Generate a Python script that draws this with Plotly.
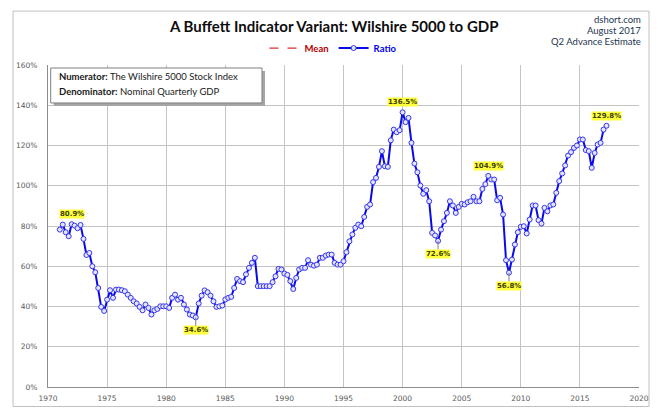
import plotly.graph_objects as go

# ---------------- data ----------------
start_year = 1971.0          # first quarterly observation
ratio = [
    # 1971 - 1982Q3
    78.2, 80.7, 76.9, 74.9, 80.9, 80.2, 78.9, 80.5, 73.6, 65.6, 66.6, 60.0,
    57.0, 49.2, 39.8, 37.8, 43.4, 48.1, 44.3, 48.4, 48.4, 48.1, 47.6, 45.9,
    44.3, 42.6, 41.5, 39.8, 38.1, 41.0, 39.3, 36.0, 38.1, 38.8, 40.1, 40.1,
    40.1, 39.3, 44.3, 45.9, 43.4, 44.3, 41.0, 38.5, 36.0, 35.5, 34.6,
    # 1982Q4 - 1987Q3
    41.5, 45.4, 48.0, 47.1, 45.4, 42.6, 39.8, 40.1, 40.5, 43.5, 44.3, 44.8,
    49.2, 53.7, 52.6, 52.1, 56.0, 59.2, 61.7, 64.2,
    # 1987Q4 - 1995Q1
    50.1, 50.1, 50.1, 50.1, 50.1, 52.1, 55.0, 58.7, 58.4, 56.4, 55.7, 52.6,
    48.7, 54.2, 58.4, 59.2, 59.2, 63.0, 60.8, 60.3, 60.8, 64.2, 64.2, 65.3,
    65.8, 65.8, 61.7, 60.8, 60.8, 62.5,
    # 1995Q2 - 2000Q1
    67.0, 72.4, 75.8, 79.1, 80.7, 79.9, 84.5, 89.5, 90.7, 101.8, 103.9, 109.4,
    117.2, 109.7, 109.4, 122.6, 127.9, 126.6, 127.6, 136.5,
    # 2000Q2 - 2003Q1
    131.6, 133.7, 121.3, 111.0, 106.7, 100.1, 96.0, 97.8, 92.3, 76.6, 75.3, 72.6,
    # 2003Q2 - 2007Q2
    78.2, 82.4, 86.5, 92.3, 90.2, 86.5, 89.5, 91.0, 90.7, 91.8, 92.3, 94.5,
    92.3, 92.3, 98.4, 100.8, 104.9,
    # 2007Q3 - 2009Q1
    103.1, 103.1, 92.8, 94.0, 85.7, 63.0, 56.8,
    # 2009Q2 - 2017Q2
    63.3, 70.8, 76.9, 79.6, 79.9, 76.3, 83.2, 90.2, 90.2, 82.9, 81.2, 89.0,
    87.3, 90.2, 90.7, 96.5, 102.3, 106.1, 110.1, 115.0, 116.7, 118.8, 120.0,
    123.0, 123.0, 117.7, 117.2, 108.9, 116.3, 120.5, 121.3, 127.9, 129.8,
]
quarters = [start_year + 0.25 * i for i in range(len(ratio))]

# highlighted points: (index into series, label above?)
label_points = [4, 46, 116, 128, 145, 152, 185]
label_above = [True, False, True, False, True, False, True]

x_ticks = [1970, 1975, 1980, 1985, 1990, 1995, 2000, 2005, 2010, 2015, 2020]
y_ticks = [0, 20, 40, 60, 80, 100, 120, 140, 160]

title_text = "A Buffett Indicator Variant: Wilshire 5000 to GDP"
source_lines = ["dshort.com", "August 2017", "Q2 Advance Estimate"]
box_lines = [("Numerator:", " The Wilshire 5000 Stock Index"),
             ("Denominator:", " Nominal Quarterly GDP")]

# ---------------- layout geometry (pixels) ----------------
W, H = 660, 419
ML, MR, MT, MB = 48, 21, 65, 31.5
PW, PH = W - ML - MR, H - MT - MB


def px(X):
    return (X - ML) / PW


def py(Y):
    return (H - MB - Y) / PH


fig = go.Figure()

fig.add_trace(go.Scatter(
    x=[None], y=[None], mode="lines",
    name="<b><span style='color:#B00000'>Mean</span></b>",
    line=dict(color="#E03030", width=1.2, dash="dash"),
    hoverinfo="skip",
))
fig.add_trace(go.Scatter(
    x=quarters, y=ratio, mode="lines+markers",
    name="<b><span style='color:#0000F0'>Ratio</span></b>",
    line=dict(color="#0A0AE6", width=2),
    marker=dict(symbol="circle", size=5, color="#E4E4FF",
                line=dict(color="#3535F0", width=1)),
))

annotations = []
shapes = []

# data labels
for idx, above in zip(label_points, label_above):
    annotations.append(dict(
        x=quarters[idx], y=ratio[idx], xref="x", yref="y",
        text=f"<b>{ratio[idx]:.1f}%</b>",
        showarrow=not above,
        arrowhead=0, arrowwidth=1, arrowcolor="#808080",
        ax=0, ay=13, standoff=0,
        yshift=10 if above else 0,
        bgcolor="#FFFF3C", borderpad=0,
        font=dict(family="DejaVu Sans", size=7, color="#40400A"),
    ))

# title
annotations.append(dict(
    x=px(333), y=py(26), xref="paper", yref="paper", showarrow=False,
    text=f"<b>{title_text}</b>", xanchor="center", yanchor="middle",
    font=dict(family="Lato", size=15, color="#0D0D0D"),
))

# source text (top right)
for line, Y in zip(source_lines, [19, 30, 41]):
    annotations.append(dict(
        x=px(643), y=py(Y), xref="paper", yref="paper", showarrow=False,
        text=line, xanchor="right", yanchor="middle",
        font=dict(family="Lato", size=9.5, color="#253650"),
    ))

# numerator / denominator box
bx0, bx1, by0, by1 = 50.7, 262, 68, 103
shapes.append(dict(type="rect", xref="paper", yref="paper",
                   x0=px(bx0 + 3), x1=px(bx1 + 3), y0=py(by1 + 3), y1=py(by0 + 3),
                   fillcolor="#A6A6A6", line=dict(width=0), layer="above"))
shapes.append(dict(type="rect", xref="paper", yref="paper",
                   x0=px(bx0), x1=px(bx1), y0=py(by1), y1=py(by0),
                   fillcolor="white", line=dict(color="#7F7F7F", width=1),
                   layer="above"))
for (bold, rest), Y in zip(box_lines, [77, 92]):
    annotations.append(dict(
        x=px(57), y=py(Y), xref="paper", yref="paper", showarrow=False,
        text=f"<b>{bold}</b>{rest}", xanchor="left", yanchor="middle",
        font=dict(family="Lato", size=9.5, color="#1A1A1A"),
    ))

# outer chart border
shapes.append(dict(type="rect", xref="paper", yref="paper",
                   x0=px(13), x1=px(649), y0=py(407), y1=py(11),
                   line=dict(color="#C0C0C0", width=1), fillcolor="rgba(0,0,0,0)",
                   layer="below"))

fig.update_layout(
    width=W, height=H,
    margin=dict(l=ML, r=MR, t=MT, b=MB, pad=0),
    paper_bgcolor="white", plot_bgcolor="white",
    showlegend=True,
    legend=dict(orientation="h", x=px(333), y=py(48), xanchor="center",
                yanchor="middle", font=dict(family="Lato", size=9.5),
                bgcolor="rgba(0,0,0,0)", itemwidth=30, tracegroupgap=0),
    annotations=annotations,
    shapes=shapes,
    xaxis=dict(range=[1970, 2020], tickmode="array", tickvals=x_ticks,
               ticktext=[str(t) for t in x_ticks],
               showgrid=True, gridcolor="#C4C4C4", gridwidth=1,
               showline=True, linecolor="#8C8C8C", linewidth=1,
               zeroline=False, ticks="", ticklabelstandoff=4,
               tickfont=dict(family="DejaVu Sans", size=7.5, color="#595959")),
    yaxis=dict(range=[0, 160], tickmode="array", tickvals=y_ticks,
               ticktext=[f"{t}%" for t in y_ticks],
               showgrid=True, gridcolor="#C4C4C4", gridwidth=1,
               showline=True, linecolor="#8C8C8C", linewidth=1,
               zeroline=False, ticks="", ticklabelstandoff=8,
               tickfont=dict(family="DejaVu Sans", size=7.5, color="#595959")),
)

fig.write_html("out.html", config={"displayModeBar": False},
               post_script="document.body.style.margin='0';")
